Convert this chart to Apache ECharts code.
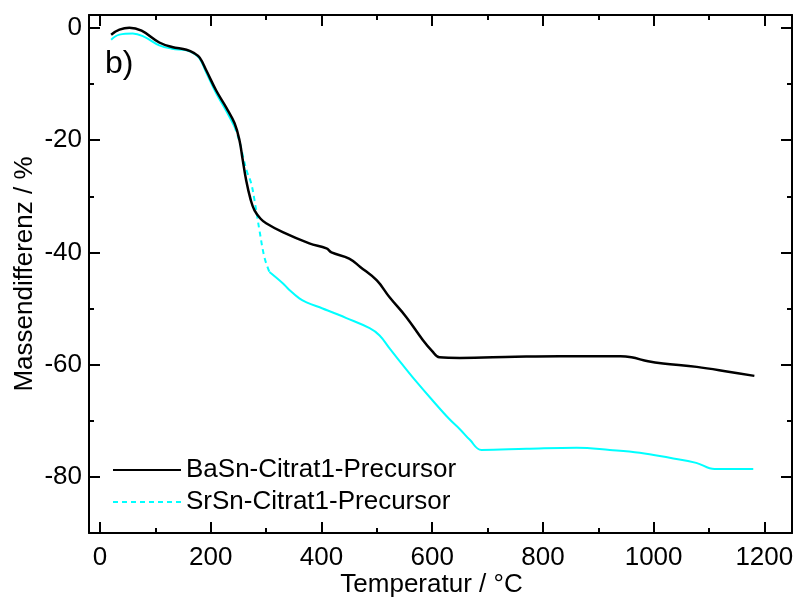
<!DOCTYPE html>
<html>
<head>
<meta charset="utf-8">
<script src="https://cdn.jsdelivr.net/npm/echarts@6/dist/echarts.min.js"></script>
<style>
  html, body { margin: 0; padding: 0; background: #fff; }
  #chart { width: 798px; height: 597px; }
</style>
</head>
<body>
<div id="chart"></div>
<script>
// BaSn-Citrat1-Precursor
const baTemp = [20, 35, 53, 75, 107, 130, 156, 170, 180, 192, 210, 228, 243, 252, 257, 264, 272, 279, 290, 300,
  330, 378, 409, 418, 450, 470, 500, 523, 553, 583, 600, 613, 650, 750, 830, 940, 960, 990, 1017, 1078, 1138, 1182]
const baMass = [-1.2, -0.3, 0.05, -0.5, -2.6, -3.4, -3.9, -4.5, -5.3, -7.6, -11.2, -14.2, -17.0, -20.1, -23.1, -27.2, -30.6, -32.5, -34.0, -34.8,
  -36.4, -38.4, -39.3, -40.0, -41.1, -42.6, -45.0, -48.0, -51.5, -55.6, -57.6, -58.7, -58.8, -58.6, -58.5, -58.5, -58.7, -59.4, -59.8, -60.4, -61.3, -62.0]

// SrSn-Citrat1-Precursor
const srTemp = [20, 35, 59, 80, 107, 130, 156, 170, 180, 192, 210, 228, 243, 252, 258, 265, 273, 279, 288, 297,
  306, 330, 342, 360, 373, 402, 445, 487, 505, 523, 547, 566, 600, 630, 650, 668, 689, 770, 861, 921, 975, 1029, 1077, 1110, 1180]
const srMass = [-2.1, -1.2, -1.0, -1.6, -3.1, -3.7, -4.0, -4.6, -5.5, -8.0, -11.7, -14.8, -17.6, -20.3, -22.8, -25.5, -27.7, -30.7, -36.1, -40.9,
  -43.5, -45.5, -46.7, -48.2, -48.9, -50.0, -51.7, -53.5, -54.8, -57.1, -60.1, -62.4, -66.3, -69.6, -71.5, -73.4, -75.2, -75.0, -74.8, -75.2, -75.7, -76.6, -77.5, -78.6, -78.6]
// part of the Sr curve that is drawn dashed
const srDashFrom = 243
const srDashTo = 306

const xMajor = [0, 200, 400, 600, 800, 1000, 1200]
const xMinor = [100, 300, 500, 700, 900, 1100]
const yMajor = [0, -20, -40, -60, -80]
const yMinor = [-10, -30, -50, -70]

const names = ['BaSn-Citrat1-Precursor', 'SrSn-Citrat1-Precursor']

const font = 'Liberation Sans, Arial, sans-serif'
const fs = 26
const xRange = { min: -20, max: 1250 }
const yRange = { min: -90, max: 2.3 }

const baData = baTemp.map((t, i) => [t, baMass[i]])
const srSolid = srTemp.map((t, i) => (t > srDashFrom && t < srDashTo ? [t, null] : [t, srMass[i]]))
const srDash = srTemp.map((t, i) => [t, srMass[i]]).filter((p) => p[0] >= srDashFrom && p[0] <= srDashTo)

const majorAxisX = (pos, labels) => ({
  type: 'value', gridIndex: 0, position: pos, ...xRange,
  axisLine: { show: true, onZero: false, lineStyle: { color: '#000', width: 2 } },
  axisTick: { show: true, inside: true, length: 11, customValues: xMajor, lineStyle: { color: '#000', width: 2 } },
  axisLabel: labels
    ? { show: true, customValues: xMajor, margin: 12, color: '#000', fontSize: fs, fontFamily: font, formatter: (v) => String(v) }
    : { show: false },
  splitLine: { show: false },
})
const majorAxisY = (pos, labels) => ({
  type: 'value', gridIndex: 0, position: pos, ...yRange,
  axisLine: { show: true, onZero: false, lineStyle: { color: '#000', width: 2 } },
  axisTick: { show: true, inside: true, length: 11, customValues: yMajor, lineStyle: { color: '#000', width: 2 } },
  axisLabel: labels
    ? { show: true, customValues: yMajor, margin: 7, color: '#000', fontSize: fs, fontFamily: font, formatter: (v) => String(v) }
    : { show: false },
  splitLine: { show: false },
})
const minorAxis = (kind, pos) => ({
  type: 'value', gridIndex: 1, position: pos, ...(kind === 'x' ? xRange : yRange),
  axisLine: { show: false, onZero: false },
  axisTick: { show: true, inside: true, length: 5, customValues: kind === 'x' ? xMinor : yMinor, lineStyle: { color: '#000', width: 2 } },
  axisLabel: { show: false },
  splitLine: { show: false },
})

const chart = echarts.init(document.getElementById('chart'))

const xBottom = majorAxisX('bottom', true)
xBottom.name = 'Temperatur / °C'
xBottom.nameLocation = 'middle'
xBottom.nameGap = 39
xBottom.nameMoveOverlap = false
xBottom.nameTextStyle = { color: '#000', fontSize: fs, fontFamily: font, padding: [0, 18, 0, 0] }

const yLeft = majorAxisY('left', true)
yLeft.name = 'Massendifferenz / %'
yLeft.nameLocation = 'middle'
yLeft.nameGap = 43
yLeft.nameMoveOverlap = false
yLeft.nameTextStyle = { color: '#000', fontSize: fs, fontFamily: font, padding: [0, 0, 8, 0] }

const gridBox = { left: 89, right: 6, top: 15, bottom: 64, containLabel: false, outerBoundsMode: 'none' }

chart.setOption({
  animation: false,
  backgroundColor: '#fff',
  grid: [gridBox, { ...gridBox }],
  xAxis: [xBottom, majorAxisX('top', false), minorAxis('x', 'bottom'), minorAxis('x', 'top')],
  yAxis: [yLeft, majorAxisY('right', false), minorAxis('y', 'left'), minorAxis('y', 'right')],
  legend: {
    data: names,
    orient: 'vertical',
    left: 107,
    top: 452,
    itemWidth: 68,
    itemHeight: 14,
    itemGap: 6,
    itemStyle: { opacity: 0 },
    textStyle: { color: '#000', fontSize: fs, fontFamily: font },
  },
  graphic: [
    {
      type: 'text',
      left: 105,
      top: 48,
      style: { text: 'b)', fill: '#000', fontSize: 32, fontFamily: font },
    },
  ],
  series: [
    {
      name: names[0],
      type: 'line',
      xAxisIndex: 0,
      yAxisIndex: 0,
      data: baData,
      showSymbol: false,
      symbol: 'none',
      smooth: 0.4,
      lineStyle: { color: '#000', width: 2.5 },
      itemStyle: { color: '#000' },
      z: 3,
    },
    {
      name: 'SrSn-solid',
      type: 'line',
      xAxisIndex: 0,
      yAxisIndex: 0,
      data: srSolid,
      connectNulls: false,
      showSymbol: false,
      symbol: 'none',
      smooth: 0.4,
      lineStyle: { color: '#00ffff', width: 2 },
      itemStyle: { color: '#00ffff' },
      z: 2,
    },
    {
      name: names[1],
      type: 'line',
      xAxisIndex: 0,
      yAxisIndex: 0,
      data: srDash,
      showSymbol: false,
      symbol: 'none',
      smooth: 0.4,
      lineStyle: { color: '#00ffff', width: 2, type: [5, 4] },
      itemStyle: { color: '#00ffff' },
      z: 2,
    },
  ],
})
</script>
</body>
</html>
